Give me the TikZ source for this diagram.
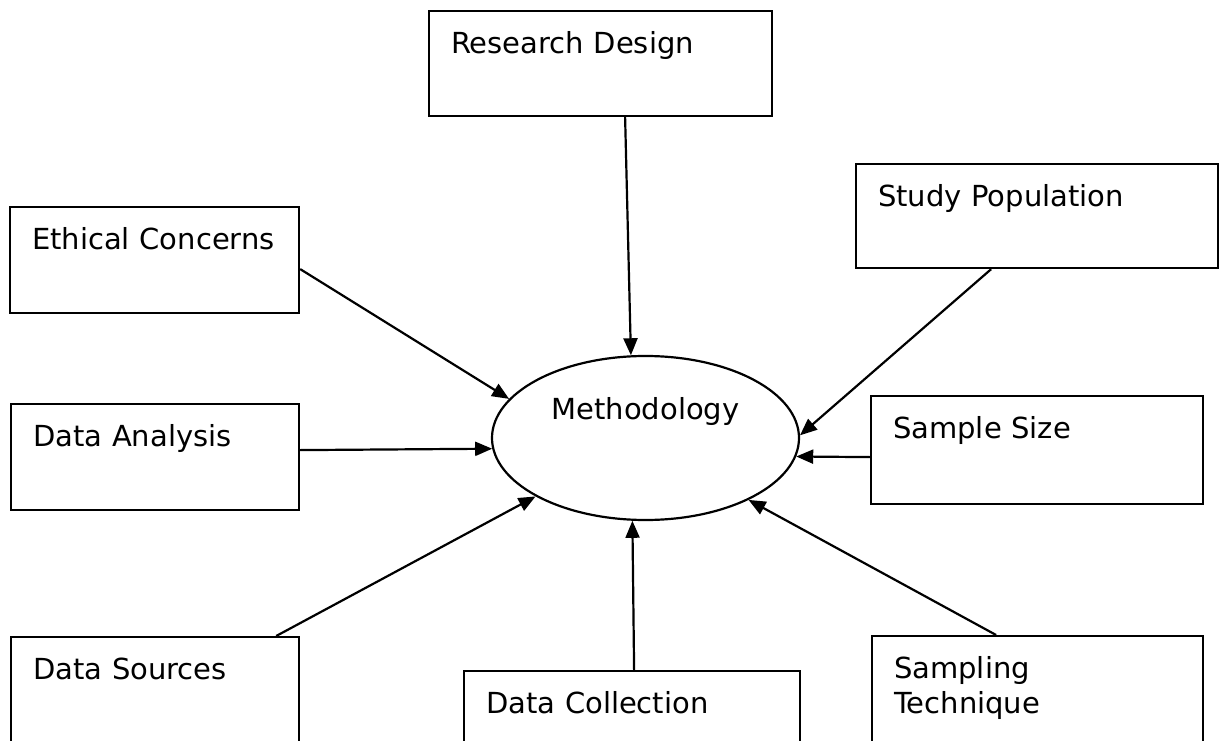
\documentclass[tikz,border=0pt]{standalone}
\usepackage{fontspec}
\setmainfont{DejaVu Sans}
\usepackage{tikz}
\usetikzlibrary{arrows.meta,shapes.geometric}

\begin{document}
\begin{tikzpicture}[->,>={Triangle[length=17pt,width=14pt]},x=1pt,y=-1pt,line width=2.2pt,
    font=\fontsize{29}{35}\selectfont]
  \tikzstyle{box}=[draw,anchor=north west,align=left,inner xsep=22pt,inner ysep=0pt,text height=42pt]
  \tikzstyle{hub}=[draw,ellipse,inner sep=0pt,minimum width=307pt,minimum height=164pt,text height=22pt,text depth=60pt]

  \useasboundingbox (0,0) rectangle (1219,741);

  \node[hub] 					(M)	at (645.5,438)	{Methodology};

  \node[box,text width=299pt,text depth=63pt]	(RD)	at (428,10)	{Research Design};
  \node[box,text width=318pt,text depth=62pt]	(SP)	at (855,163)	{Study Population};
  \node[box,text width=245pt,text depth=64pt]	(EC)	at (9,206)	{Ethical Concerns};
  \node[box,text width=244pt,text depth=64pt]	(DA)	at (10,403)	{Data Analysis};
  \node[box,text width=288pt,text depth=66pt]	(SS)	at (870,395)	{Sample Size};
  \node[box,text width=244pt,text depth=64pt]	(DS)	at (10,636)	{Data Sources};
  \node[box,text width=292pt,text depth=64pt]	(DC)	at (463,670)	{Data Collection};
  \node[box,text width=287pt,text depth=64pt]	(ST)	at (871,635)	{Sampling\\Technique};

  \path	([xshift=24.5pt]RD.south)	edge	(M.100.6)
	([yshift=-9pt]EC.east)		edge	(M.164.1)
	([yshift=7pt]DA.east)		edge	(M.184.1)
	([xshift=-24pt]DS.north east)	edge	(M.208.3)
	([xshift=2pt]DC.north)		edge	(M.261.5)
	([xshift=-41.5pt]ST.north)	edge	(M.329.3)
	([yshift=-7pt]SS.west)		edge	(M.353.4)
	([xshift=-46pt]SP.south)	edge	(M.1.9);

\end{tikzpicture}
\end{document}
